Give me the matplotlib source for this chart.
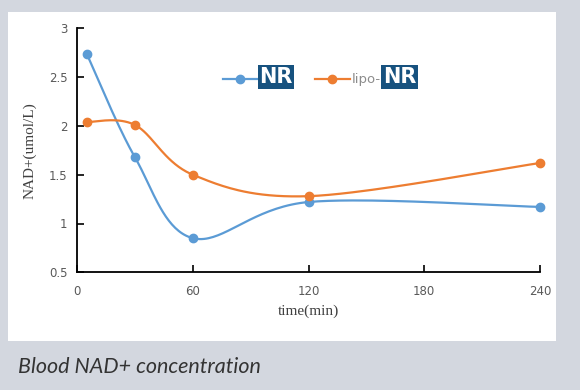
import numpy as np
import matplotlib
matplotlib.use("Agg")
import matplotlib.pyplot as plt
from matplotlib.patches import Rectangle

# data
time_min = [5, 30, 60, 120, 240]
nr_values = [2.74, 1.68, 0.85, 1.22, 1.17]
lipo_values = [2.04, 2.01, 1.50, 1.28, 1.62]
x_ticks = [0, 60, 120, 180, 240]
y_ticks = [0.5, 1, 1.5, 2, 2.5, 3]

BLUE = "#5b9bd5"
ORANGE = "#ed7d31"
BOX = "#17527f"


def smooth(x, y, n=40):
    """Excel-like smoothed line: Catmull-Rom style cubic Bezier through the points."""
    p = np.column_stack([x, y]).astype(float)
    ext = np.vstack([p[0], p, p[-1]])
    t = np.linspace(0, 1, n)[:, None]
    out = []
    for i in range(1, len(ext) - 2):
        p0, p1, p2, p3 = ext[i - 1], ext[i], ext[i + 1], ext[i + 2]
        c1 = p1 + (p2 - p0) / 6
        c2 = p2 - (p3 - p1) / 6
        seg = ((1 - t) ** 3) * p1 + 3 * ((1 - t) ** 2) * t * c1 + 3 * (1 - t) * t ** 2 * c2 + t ** 3 * p2
        out.append(seg if i == 1 else seg[1:])
    out = np.vstack(out)
    return out[:, 0], out[:, 1]


fig = plt.figure(figsize=(5.8, 3.9), dpi=100)
fig.patch.set_facecolor("#d3d7df")
# white card behind the chart
fig.patches.append(Rectangle((8 / 580, 49 / 390), 548 / 580, 329 / 390,
                             transform=fig.transFigure, facecolor="white",
                             edgecolor="none", zorder=-1))

ax = fig.add_axes([77 / 580, 117.7 / 390, 463 / 580, 244 / 390])
ax.set_facecolor("none")
ax.set_zorder(1)

for vals, col, lab in [(nr_values, BLUE, "NR"), (lipo_values, ORANGE, "lipo-")]:
    sx, sy = smooth(time_min, vals)
    ax.plot(sx, sy, color=col, lw=1.6, zorder=2, clip_on=False)
    ax.plot(time_min, vals, "o", color=col, ms=6, zorder=3, clip_on=False)
    ax.plot([], [], "-o", color=col, lw=1.6, ms=6, label=lab)

ax.set_xlim(0, 240)
ax.set_ylim(0.5, 3)
ax.set_xticks(x_ticks)
ax.set_yticks(y_ticks)
ax.set_yticklabels(["0.5", "1", "1.5", "2", "2.5", "3"])
ax.tick_params(direction="in", length=5, width=1.2, colors="black",
               labelcolor="#595959", labelsize=8.5)
ax.tick_params(axis="x", pad=9)
ax.tick_params(axis="y", pad=7)
ax.spines[["top", "right"]].set_visible(False)
for s in ["left", "bottom"]:
    ax.spines[s].set_linewidth(1.3)

ax.set_xlabel("time(min)", family="Liberation Serif", fontsize=11, color="#404040", labelpad=5)
ax.set_ylabel("NAD+(umol/L)", family="Liberation Serif", fontsize=11, color="#404040", labelpad=9)

leg = ax.legend(loc="center left", bbox_to_anchor=(0.29, 0.80), ncol=2, frameon=False,
                handlelength=2.8, handletextpad=0.15, columnspacing=1.75, fontsize=9)
t_nr, t_lipo = leg.get_texts()
t_nr.set_color("white")
t_nr.set_fontweight("bold")
t_nr.set_fontsize(15)
t_nr.set_bbox(dict(facecolor=BOX, edgecolor="none", pad=1.2))
t_lipo.set_color("#8c8c8c")
t_lipo.set_fontsize(9.5)
# second "NR" badge, placed right after "lipo-" and level with the first badge
ax.annotate("NR", xy=(1, 0.5), xycoords=(t_lipo, t_nr), xytext=(1.5, 0),
            textcoords="offset points", va="center", ha="left", color="white",
            fontweight="bold", fontsize=15,
            bbox=dict(facecolor=BOX, edgecolor="none", pad=1.2), zorder=10)

fig.text(18 / 580, 1 - 367 / 390, "Blood NAD+ concentration", family="Lato",
         style="italic", fontsize=15.5, color="#333333", va="center")

fig.savefig("out.png", dpi=100, facecolor=fig.get_facecolor())
